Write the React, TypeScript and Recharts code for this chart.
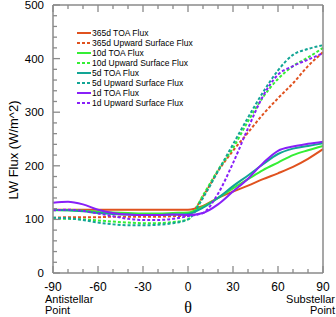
import { LineChart, Line, XAxis, YAxis, Legend } from "recharts";

const FONT = "'Liberation Sans', Arial, Helvetica, sans-serif";
const AXIS = "#8a8a8a";

const ORANGE = "#E0521F";
const GREEN = "#35EE35";
const TEAL = "#12A595";
const PURPLE = "#8820F8";

// zenith angle from antistellar (-90) to substellar (+90) point
const theta = [-90, -80, -70, -60, -50, -40, -30, -20, -10, 0, 10, 20, 30, 40, 50, 60, 70, 80, 90];

const toa365 = [118, 118, 118, 118, 118, 118, 118, 118, 118, 118, 125, 140, 152, 163, 175, 186, 198, 213, 231];
const up365 = [103, 104, 104, 104, 105, 105, 105, 105, 106, 107, 143, 190, 228, 262, 296, 326, 354, 386, 412];
const toa10 = [117, 117, 116, 114, 113, 112, 111, 111, 112, 113, 124, 140, 158, 175, 192, 206, 220, 229, 237];
const up10 = [101, 101, 100, 98, 96, 94, 93, 93, 95, 100, 145, 192, 233, 283, 328, 362, 386, 402, 420];
const toa5 = [118, 117, 115, 112, 110, 109, 108, 108, 109, 110, 122, 140, 162, 182, 203, 222, 232, 237, 242];
const up5 = [103, 102, 99, 94, 91, 89, 89, 90, 93, 100, 140, 190, 240, 290, 337, 378, 407, 418, 425];
const toa1 = [131, 133, 128, 118, 112, 109, 108, 108, 109, 108, 112, 128, 152, 176, 205, 228, 236, 241, 245];
const up1 = [117, 118, 116, 111, 106, 101, 99, 99, 101, 106, 112, 148, 205, 270, 330, 370, 386, 398, 410];

const xTicks = [-90, -80, -70, -60, -50, -40, -30, -20, -10, 0, 10, 20, 30, 40, 50, 60, 70, 80, 90];
const xLabels = [-90, -60, -30, 0, 30, 60, 90];
const yTicks = [0, 20, 40, 60, 80, 100, 120, 140, 160, 180, 200, 220, 240, 260, 280, 300, 320, 340, 360, 380, 400, 420, 440, 460, 480, 500];
const yLabels = [0, 100, 200, 300, 400, 500];

const series = [
  { key: "toa365", name: "365d TOA Flux", color: ORANGE, dashed: false },
  { key: "up365", name: "365d Upward Surface Flux", color: ORANGE, dashed: true },
  { key: "toa10", name: "10d TOA Flux", color: GREEN, dashed: false },
  { key: "up10", name: "10d Upward Surface Flux", color: GREEN, dashed: true },
  { key: "toa5", name: "5d TOA Flux", color: TEAL, dashed: false },
  { key: "up5", name: "5d Upward Surface Flux", color: TEAL, dashed: true },
  { key: "toa1", name: "1d TOA Flux", color: PURPLE, dashed: false },
  { key: "up1", name: "1d Upward Surface Flux", color: PURPLE, dashed: true },
];

const data = theta.map((t, i) => ({
  theta: t,
  toa365: toa365[i],
  up365: up365[i],
  toa10: toa10[i],
  up10: up10[i],
  toa5: toa5[i],
  up5: up5[i],
  toa1: toa1[i],
  up1: up1[i],
}));

const DASH = "3 2";

// ticks point inward on all four sides, labels only on major ones
function BottomTick({ x, y, payload }: any) {
  const major = xLabels.includes(payload.value);
  return (
    <g>
      <line x1={x} x2={x} y1={y} y2={y - (major ? 7 : 4)} stroke={AXIS} strokeWidth={1.3} />
      {major && (
        <text x={x} y={y + 18} textAnchor="middle" fontSize={12} fontFamily={FONT} fill="#000">
          {payload.value}
        </text>
      )}
    </g>
  );
}

function TopTick({ x, y, payload }: any) {
  const major = xLabels.includes(payload.value);
  return <line x1={x} x2={x} y1={y} y2={y + (major ? 7 : 4)} stroke={AXIS} strokeWidth={1.3} />;
}

function LeftTick({ x, y, payload }: any) {
  const major = yLabels.includes(payload.value);
  return (
    <g>
      <line x1={x} x2={x + (major ? 7 : 4)} y1={y} y2={y} stroke={AXIS} strokeWidth={1.3} />
      {major && (
        <text x={x - 9} y={y + 4} textAnchor="end" fontSize={11.5} fontFamily={FONT} fill="#000">
          {payload.value}
        </text>
      )}
    </g>
  );
}

function RightTick({ x, y, payload }: any) {
  const major = yLabels.includes(payload.value);
  return <line x1={x} x2={x - (major ? 7 : 4)} y1={y} y2={y} stroke={AXIS} strokeWidth={1.3} />;
}

function LegendBox() {
  return (
    <div style={{ fontFamily: FONT, fontSize: 8.5, lineHeight: "10px", color: "#000" }}>
      {series.map((s) => (
        <div key={s.key} style={{ display: "flex", alignItems: "center", height: 10, whiteSpace: "nowrap" }}>
          <svg width={15} height={10} style={{ display: "block" }}>
            <line x1={0} x2={14} y1={5} y2={5} stroke={s.color} strokeWidth={2} strokeDasharray={s.dashed ? DASH : undefined} />
          </svg>
          <span>{s.name}</span>
        </div>
      ))}
    </div>
  );
}

export default function App() {
  return (
    <div style={{ position: "absolute", left: 0, top: 0, width: 336, height: 317, background: "#fff" }}>
      <LineChart width={336} height={317} data={data} margin={{ top: 0, right: 0, bottom: 0, left: 0 }}>
        <XAxis
          xAxisId="b"
          dataKey="theta"
          type="number"
          domain={[-90, 90]}
          ticks={xTicks}
          interval={0}
          height={44}
          tickSize={0}
          tickMargin={0}
          stroke={AXIS}
          strokeWidth={1.5}
          tick={<BottomTick />}
        />
        <XAxis
          xAxisId="t"
          orientation="top"
          dataKey="theta"
          type="number"
          domain={[-90, 90]}
          ticks={xTicks}
          interval={0}
          height={5}
          tickSize={0}
          tickMargin={0}
          stroke={AXIS}
          strokeWidth={1.5}
          tick={<TopTick />}
        />
        <YAxis
          yAxisId="l"
          type="number"
          domain={[0, 500]}
          ticks={yTicks}
          interval={0}
          width={53}
          tickSize={0}
          tickMargin={0}
          stroke={AXIS}
          strokeWidth={1.5}
          tick={<LeftTick />}
        />
        <YAxis
          yAxisId="r"
          orientation="right"
          type="number"
          domain={[0, 500]}
          ticks={yTicks}
          interval={0}
          width={13}
          tickSize={0}
          tickMargin={0}
          stroke={AXIS}
          strokeWidth={1.5}
          tick={<RightTick />}
        />
        <Legend
          layout="vertical"
          align="center"
          verticalAlign="middle"
          wrapperStyle={{ left: 77, top: 28, width: 130, height: 80 }}
          content={<LegendBox />}
        />
        {series.map((s) => (
          <Line
            key={s.key}
            xAxisId="b"
            yAxisId="l"
            type="monotone"
            dataKey={s.key}
            name={s.name}
            stroke={s.color}
            strokeWidth={2}
            strokeDasharray={s.dashed ? DASH : undefined}
            dot={false}
            activeDot={false}
            isAnimationActive={false}
          />
        ))}
      </LineChart>
      <svg
        width={336}
        height={317}
        style={{ position: "absolute", left: 0, top: 0, pointerEvents: "none" }}
      >
        <text
          transform="translate(18,150) rotate(-90)"
          textAnchor="middle"
          fontSize={13}
          fontFamily={FONT}
          fill="#000"
        >
          LW Flux (W/m^2)
        </text>
        <text x={45} y={303} fontSize={11} fontFamily={FONT} fill="#000">Antistellar</text>
        <text x={45} y={314} fontSize={11} fontFamily={FONT} fill="#000">Point</text>
        <text x={335} y={303} textAnchor="end" fontSize={11} fontFamily={FONT} fill="#000">Substellar</text>
        <text x={335} y={314} textAnchor="end" fontSize={11} fontFamily={FONT} fill="#000">Point</text>
        <text x={188} y={313} textAnchor="middle" fontSize={16} fontFamily="'Liberation Serif', 'DejaVu Serif', serif" fill="#000">
          θ
        </text>
      </svg>
    </div>
  );
}
